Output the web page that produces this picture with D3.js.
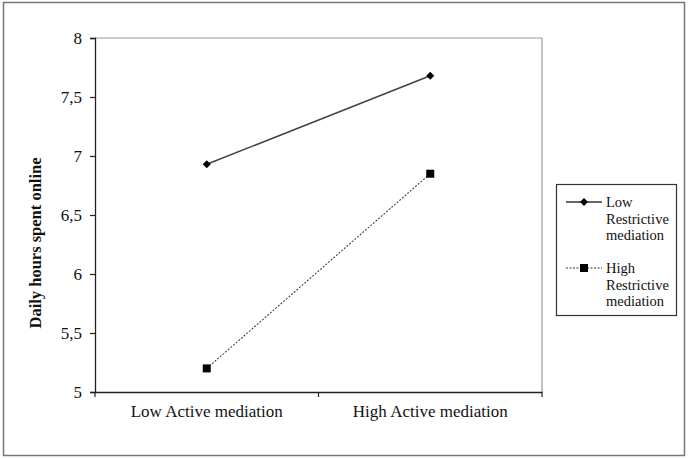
<!DOCTYPE html>
<html lang="en">
<head>
<meta charset="UTF-8">
<title>Daily hours spent online</title>
<script src="https://cdn.jsdelivr.net/npm/d3@7"></script>
<style>
  body { margin: 0; background: #fff; }
  svg text { font-family: "Liberation Serif", "Times New Roman", serif; fill: #111; }
</style>
</head>
<body>
<svg id="chart" width="688" height="459"></svg>
<script>
// data
const categories = ["Low Active mediation", "High Active mediation"];
const seriesNames = ["Low Restrictive mediation", "High Restrictive mediation"];
const lowRestrictive = [6.93, 7.68];
const highRestrictive = [5.2, 6.85];
const yTicks = [5, 5.5, 6, 6.5, 7, 7.5, 8];

const serif = '"Liberation Serif", "Times New Roman", serif';
const svg = d3.select('#chart');

// outer frame
svg.append('rect')
  .attr('x', 3.5).attr('y', 2.5)
  .attr('width', 681).attr('height', 453)
  .attr('fill', 'none').attr('stroke', '#777').attr('stroke-width', 1.5);

const plot = { left: 95, right: 542, top: 38, bottom: 392 };

const x = d3.scaleBand().domain(categories).range([plot.left, plot.right]);
const y = d3.scaleLinear().domain([5, 8]).range([plot.bottom, plot.top]);

// plot area border (top/right gray)
svg.append('path')
  .attr('d', `M${plot.left},${plot.top}H${plot.right}V${plot.bottom}`)
  .attr('fill', 'none').attr('stroke', '#999').attr('stroke-width', 1.2);

// y axis
const yAxis = svg.append('g')
  .attr('transform', `translate(${plot.left},0)`)
  .call(d3.axisLeft(y).tickValues(yTicks).tickSize(5).tickPadding(8)
    .tickFormat(d => String(d).replace('.', ',')))
  .attr('font-family', serif).attr('font-size', 17);
yAxis.select('.domain').attr('stroke', '#222').attr('stroke-width', 1.3);
yAxis.selectAll('.tick line').attr('stroke', '#222').attr('stroke-width', 1.2);
yAxis.selectAll('text').attr('fill', '#111');

// x axis
const xAxis = svg.append('g')
  .attr('transform', `translate(0,${plot.bottom})`)
  .call(d3.axisBottom(x).tickSize(0).tickPadding(13))
  .attr('font-family', serif).attr('font-size', 17);
xAxis.select('.domain').attr('stroke', '#222').attr('stroke-width', 1.3);
xAxis.selectAll('text').attr('fill', '#111');

// category boundary ticks
const bounds = [plot.left].concat(categories.map(c => x(c) + x.bandwidth()));
svg.append('g').selectAll('line')
  .data(bounds).enter().append('line')
  .attr('x1', d => d).attr('x2', d => d)
  .attr('y1', plot.bottom).attr('y2', plot.bottom + 5)
  .attr('stroke', '#222').attr('stroke-width', 1.2);

// y axis title
svg.append('text')
  .attr('transform', `translate(41,243) rotate(-90)`)
  .attr('text-anchor', 'middle')
  .attr('font-size', 16.5).attr('font-weight', 'bold')
  .text('Daily hours spent online');

const cx = c => x(c) + x.bandwidth() / 2;
const line = d3.line().x(d => cx(d.cat)).y(d => y(d.v));

const series = [
  { name: seriesNames[0], values: lowRestrictive, dash: null, width: 1.6, marker: 'diamond' },
  { name: seriesNames[1], values: highRestrictive, dash: '2,1.5', width: 1.1, marker: 'square' }
];

function drawMarker(g, type, px, py) {
  if (type === 'diamond') {
    g.append('path')
      .attr('d', `M${px},${py - 4}L${px + 4},${py}L${px},${py + 4}L${px - 4},${py}Z`)
      .attr('fill', '#000');
  } else {
    g.append('rect')
      .attr('x', px - 4).attr('y', py - 4)
      .attr('width', 8).attr('height', 8)
      .attr('fill', '#000');
  }
}

series.forEach(s => {
  const pts = categories.map((c, i) => ({ cat: c, v: s.values[i] }));
  svg.append('path')
    .datum(pts)
    .attr('d', line)
    .attr('fill', 'none')
    .attr('stroke', '#444')
    .attr('stroke-width', s.width)
    .attr('stroke-dasharray', s.dash);
  const g = svg.append('g');
  pts.forEach(p => drawMarker(g, s.marker, cx(p.cat), y(p.v)));
});

// legend
const legend = svg.append('g');
legend.append('rect')
  .attr('x', 556.5).attr('y', 184.5)
  .attr('width', 120).attr('height', 131)
  .attr('fill', '#fff').attr('stroke', '#333').attr('stroke-width', 1.2);

series.forEach((s, i) => {
  const top = 202 + i * 66;
  legend.append('line')
    .attr('x1', 566).attr('x2', 602)
    .attr('y1', top).attr('y2', top)
    .attr('stroke', '#333').attr('stroke-width', s.width)
    .attr('stroke-dasharray', s.dash);
  drawMarker(legend, s.marker, 584, top);
  const words = s.name.split(' ');
  words.forEach((w, j) => {
    legend.append('text')
      .attr('x', 606)
      .attr('y', top + 5 + j * 16.5)
      .attr('font-size', 14.5)
      .text(w);
  });
});
</script>
</body>
</html>
